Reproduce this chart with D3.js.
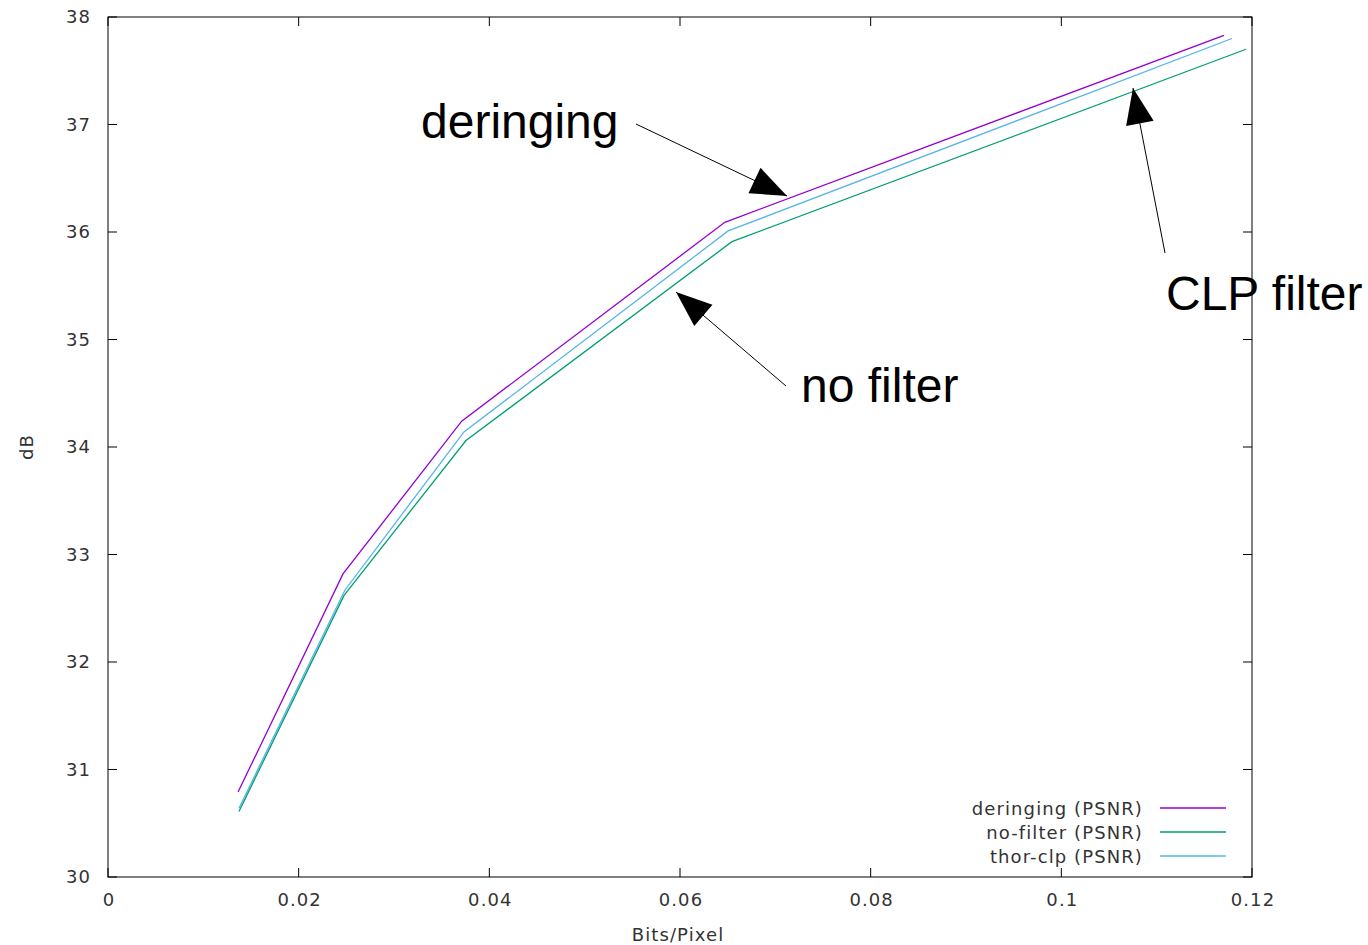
<!DOCTYPE html>
<html><head><meta charset="utf-8">
<script src="https://cdn.jsdelivr.net/npm/d3@7"></script>
<style>body{margin:0;background:#fff}text{font-family:"Liberation Sans",Arial,sans-serif}.sm{font-family:"DejaVu Sans",sans-serif;letter-spacing:1.1px}</style>
</head><body><svg id="c" width="1368" height="945"></svg>
<script>
const deringingX = [0.01364, 0.02465, 0.03710, 0.06470, 0.11706];
const deringingY = [30.79, 32.82, 34.24, 36.09, 37.83];
const nofilterX = [0.01374, 0.02476, 0.03755, 0.06545, 0.11937];
const nofilterY = [30.61, 32.62, 34.06, 35.91, 37.70];
const thorX = [0.01374, 0.02486, 0.03734, 0.06505, 0.11790];
const thorY = [30.64, 32.67, 34.14, 36.01, 37.80];
const xTicks = [0, 0.02, 0.04, 0.06, 0.08, 0.1, 0.12];
const yTicks = [30, 31, 32, 33, 34, 35, 36, 37, 38];
const seriesNames = ["deringing (PSNR)", "no-filter (PSNR)", "thor-clp (PSNR)"];
const seriesColors = ["#9400d3", "#009e73", "#56b4e9"];

const svg = d3.select("#c");
const L = 108, R = 1252, T = 17, B = 877;
const x = d3.scaleLinear().domain([0, 0.12]).range([L, R]);
const y = d3.scaleLinear().domain([30, 38]).range([B, T]);
const tickCol = "#333";

const tl = 9;
xTicks.forEach(t => {
  svg.append("line").attr("x1", x(t)).attr("x2", x(t)).attr("y1", B).attr("y2", B - tl).attr("stroke", "#000");
  svg.append("line").attr("x1", x(t)).attr("x2", x(t)).attr("y1", T).attr("y2", T + tl).attr("stroke", "#000");
  svg.append("text").attr("class", "sm").attr("x", x(t) + 1).attr("y", 906).attr("text-anchor", "middle")
    .attr("font-size", 18).attr("fill", tickCol).text(d3.format("")(t));
});
yTicks.forEach(t => {
  svg.append("line").attr("x1", L).attr("x2", L + tl).attr("y1", y(t)).attr("y2", y(t)).attr("stroke", "#000");
  svg.append("line").attr("x1", R).attr("x2", R - tl).attr("y1", y(t)).attr("y2", y(t)).attr("stroke", "#000");
  svg.append("text").attr("class", "sm").attr("x", 91).attr("y", y(t) + 6).attr("text-anchor", "end")
    .attr("font-size", 18).attr("fill", tickCol).text(t);
});
svg.append("rect").attr("x", L).attr("y", T).attr("width", R - L).attr("height", B - T)
  .attr("fill", "none").attr("stroke", "#000").attr("stroke-width", 1);

svg.append("text").attr("class", "sm").attr("x", 678).attr("y", 941).attr("text-anchor", "middle")
  .attr("font-size", 18).attr("fill", tickCol).text("Bits/Pixel");
svg.append("text").attr("class", "sm").attr("transform", "translate(33,447) rotate(-90)").attr("text-anchor", "middle")
  .attr("font-size", 18).attr("fill", tickCol).text("dB");

const line = d3.line().x(d => x(d[0])).y(d => y(d[1]));
const series = [
  d3.zip(deringingX, deringingY),
  d3.zip(nofilterX, nofilterY),
  d3.zip(thorX, thorY)
];
[2, 1, 0].forEach(i => {
  svg.append("path").attr("d", line(series[i])).attr("fill", "none")
    .attr("stroke", seriesColors[i]).attr("stroke-width", 1.3);
});

seriesNames.forEach((n, i) => {
  const yy = 808 + i * 24;
  svg.append("text").attr("class", "sm").attr("x", 1143).attr("y", yy + 7).attr("text-anchor", "end")
    .attr("font-size", 18).attr("fill", tickCol).text(n);
  svg.append("line").attr("x1", 1160).attr("x2", 1226).attr("y1", yy).attr("y2", yy)
    .attr("stroke", seriesColors[i]).attr("stroke-width", 1.3);
});

function arrow(x1, y1, x2, y2) {
  svg.append("line").attr("x1", x1).attr("y1", y1).attr("x2", x2).attr("y2", y2)
    .attr("stroke", "#000").attr("stroke-width", 1);
  const a = Math.atan2(y2 - y1, x2 - x1), len = 36, w = 14;
  const bx = x2 - len * Math.cos(a), by = y2 - len * Math.sin(a);
  const px = -Math.sin(a) * w, py = Math.cos(a) * w;
  svg.append("path").attr("d", `M${x2},${y2}L${bx + px},${by + py}L${bx - px},${by - py}Z`).attr("fill", "#000");
}
const annos = [
  {text: "deringing", tx: 421, ty: 138, a: [636, 124, 787, 196]},
  {text: "no filter", tx: 801, ty: 402, a: [786, 386, 676, 292]},
  {text: "CLP filter", tx: 1166, ty: 310, a: [1165, 253, 1133, 88]}
];
annos.forEach(d => {
  svg.append("text").attr("x", d.tx).attr("y", d.ty).attr("font-size", 48).attr("fill", "#000").text(d.text);
  arrow(...d.a);
});
</script></body></html>
